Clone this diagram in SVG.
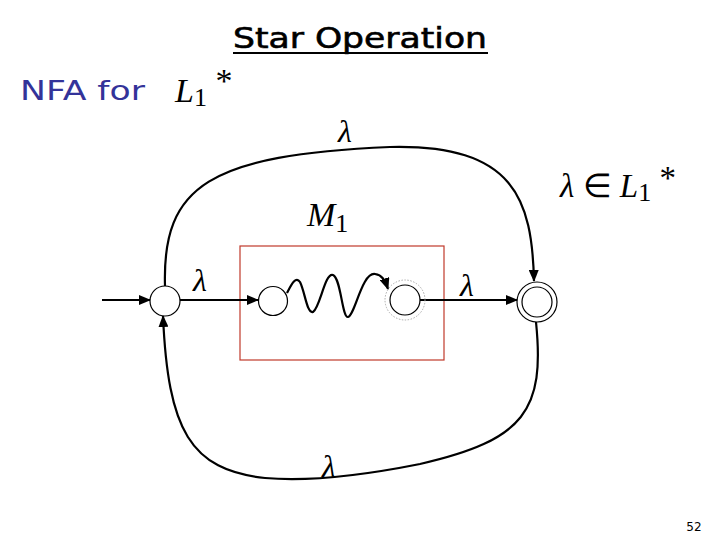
<svg xmlns="http://www.w3.org/2000/svg" width="720" height="540" viewBox="0 0 720 540">
<style>
.st{fill:#fff;stroke:#000;stroke-width:1.2}
.ed{fill:none;stroke:#000;stroke-width:2.2}
.math{font-family:"Liberation Serif",serif;font-style:italic;fill:#000}
.lam{font-family:"Liberation Serif",serif;font-style:italic;font-size:32px;fill:#000}
</style>
<defs>
<marker id="ah" markerWidth="12" markerHeight="10" refX="11" refY="5" orient="auto" markerUnits="userSpaceOnUse">
<path d="M0,0 L12,5 L0,10 z" fill="#000"/>
</marker>
</defs>
<rect width="720" height="540" fill="#fff"/>
<text x="360" y="48" text-anchor="middle" font-family="DejaVu Sans, sans-serif" font-size="28" stroke="#000" stroke-width="0.6" textLength="254" lengthAdjust="spacingAndGlyphs">Star Operation</text>
<line x1="233" y1="53" x2="488" y2="53" stroke="#000" stroke-width="2"/>
<text x="20" y="100" font-family="DejaVu Sans, sans-serif" font-size="27" fill="#333399" textLength="125" lengthAdjust="spacingAndGlyphs">NFA for</text>
<text x="175" y="102" class="math" font-size="34">L<tspan font-style="normal" font-size="26" dy="4">1</tspan><tspan font-style="normal" dy="-14"> *</tspan></text>
<text x="560" y="197" class="math" font-size="33">λ<tspan font-style="normal"> ∈ </tspan>L<tspan font-style="normal" font-size="26" dy="4">1</tspan><tspan font-style="normal" dy="-12"> *</tspan></text>
<text x="307" y="226" class="math" font-size="34">M<tspan font-style="normal" font-size="26" dy="6">1</tspan></text>
<rect id="box" x="240" y="246" width="204" height="114" fill="none" stroke="#c0392b" stroke-width="1.2"/>
<g id="connectors">
<line x1="102" y1="300" x2="150" y2="300" class="ed" marker-end="url(#ah)"/>
<line x1="180" y1="300" x2="258" y2="300" class="ed" marker-end="url(#ah)"/>
<line x1="420" y1="300" x2="517" y2="300" class="ed" marker-end="url(#ah)"/>
<path d="M165,286 C162,185 210,155 390,147 C515,144 532,200 534,281" class="ed" marker-end="url(#ah)"/>
<path d="M536,322 C545,410 525,440 420,464 C360,476 310,482 265,478 C190,470 168,430 163,316" class="ed" marker-end="url(#ah)"/>
<path d="M287,293 C292,283 296,276 300,282 C305,292 307,314 313,312 C320,308 325,272 333,275 C341,278 342,318 348,317 C355,315 362,272 375,274 C382,275 385,280 388,289" class="ed" stroke-width="2.6" marker-end="url(#ah)"/>
</g>
<text x="193" y="291" class="lam">λ</text>
<text x="460" y="296" class="lam">λ</text>
<text x="338" y="142" class="lam">λ</text>
<text x="322" y="477" class="lam">λ</text>
<g id="q0"><circle cx="165" cy="301" r="15" class="st"/></g>
<g id="q1"><circle cx="273" cy="301" r="14.5" class="st"/></g>
<g id="q2"><circle cx="405" cy="300" r="20" fill="none" stroke="#aaa" stroke-width="1" stroke-dasharray="1.5,1.5"/><circle cx="405" cy="300" r="15" class="st"/></g>
<g id="qf"><circle cx="537" cy="302" r="20" class="st"/><circle cx="537" cy="302" r="15" class="st"/></g>
<text x="694" y="531" text-anchor="middle" font-family="DejaVu Sans, sans-serif" font-size="12">52</text>
</svg>
